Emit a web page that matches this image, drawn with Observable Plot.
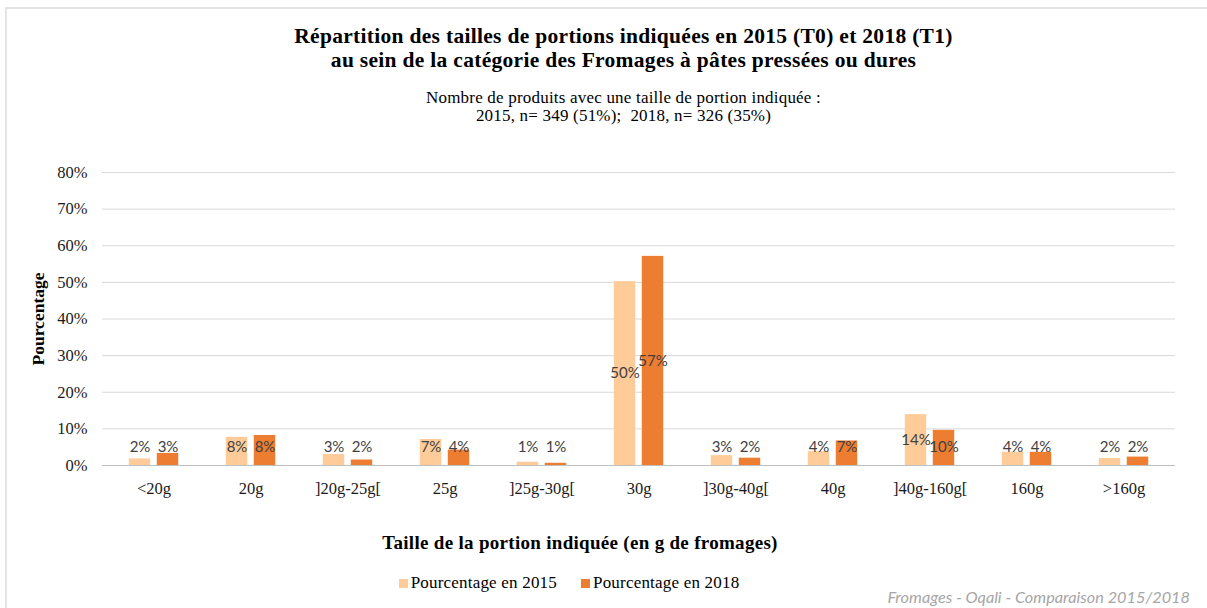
<!DOCTYPE html>
<html><head><meta charset="utf-8">
<script src="https://cdn.jsdelivr.net/npm/d3@7"></script>
<script src="https://cdn.jsdelivr.net/npm/@observablehq/plot@0.6"></script>
<style>
body{margin:0;background:#fff;}
#wrap{position:relative;width:1207px;height:608px;overflow:hidden;background:#fff;font-family:"Liberation Serif",serif;color:#000;}
#frame{position:absolute;left:5px;top:7px;width:1220px;height:620px;border-left:2px solid #e4e4e4;border-top:2px solid #e4e4e4;}
#title{position:absolute;left:20px;width:1207px;top:24px;text-align:center;font-weight:bold;font-size:21.5px;letter-spacing:0.3px;line-height:24px;}
#subtitle{position:absolute;left:20px;width:1207px;top:89px;text-align:center;font-size:17px;letter-spacing:0.2px;line-height:18px;}
#chart{position:absolute;left:0;top:140px;}
#xtitle{position:absolute;left:180px;width:800px;top:532px;text-align:center;font-weight:bold;font-size:19px;letter-spacing:0.3px;line-height:22px;}
#legend{position:absolute;left:169px;width:800px;top:573px;text-align:center;font-size:17px;letter-spacing:0.2px;line-height:20px;white-space:nowrap;}
#legend span.item{display:inline-block;margin:0 12px;}
#legend i{display:inline-block;width:9px;height:9px;margin-right:3px;vertical-align:0px;}
#caption{position:absolute;right:17px;top:587px;font-family:Lato,sans-serif;font-style:italic;font-size:16.3px;color:#a6a6a6;line-height:20px;white-space:nowrap;}
</style>
</head><body>
<div id="wrap">
  <div id="frame"></div>
  <div id="title"></div>
  <div id="subtitle"></div>
  <div id="chart"></div>
  <div id="xtitle"></div>
  <div id="legend"></div>
  <div id="caption"></div>
</div>
<script>
const titleLines = ["Répartition des tailles de portions indiquées en 2015 (T0) et 2018 (T1)", "au sein de la catégorie des Fromages à pâtes pressées ou dures"];
const subtitleLines = ["Nombre de produits avec une taille de portion indiquée :", "2015, n= 349 (51%);&nbsp; 2018, n= 326 (35%)"];
const categories = ["<20g", "20g", "]20g-25g[", "25g", "]25g-30g[", "30g", "]30g-40g[", "40g", "]40g-160g[", "160g", ">160g"];
const pct2015 = [1.8, 7.7, 3.0, 7.1, 0.9, 50.2, 2.7, 3.8, 13.9, 3.6, 1.9];
const pct2018 = [3.3, 8.2, 1.5, 4.2, 0.6, 57.1, 2.0, 6.7, 9.6, 3.6, 2.3];
const seriesNames = ["Pourcentage en 2015", "Pourcentage en 2018"];
const seriesColors = ["#FFCC99", "#ED7D31"];
const yTicks = [0, 10, 20, 30, 40, 50, 60, 70, 80];
const yTitle = "Pourcentage";
const xTitle = "Taille de la portion indiquée (en g de fromages)";
const caption = "Fromages - Oqali - Comparaison 2015/2018";

document.getElementById("title").innerHTML = titleLines.join("<br>");
document.getElementById("subtitle").innerHTML = subtitleLines.join("<br>");
document.getElementById("xtitle").textContent = xTitle;
document.getElementById("caption").textContent = caption;
const leg = document.getElementById("legend");
seriesNames.forEach((n, i) => {
  const s = document.createElement("span");
  s.className = "item";
  const sw = document.createElement("i");
  sw.style.background = seriesColors[i];
  s.appendChild(sw);
  s.appendChild(document.createTextNode(n));
  leg.appendChild(s);
});

const data = categories.map((c, i) => ({cat: c, v15: pct2015[i], v18: pct2018[i]}));
const W = 1207, H = 370, mL = 102, mR = 32, mT = 32, mB = 45;
const bw = (W - mL - mR) / categories.length;
const barW = 22, gap = 6;
const off = (barW + gap) / 2;
const labelFont = {fontFamily: "Lato, sans-serif", fontSize: 15, fill: "#404040"};

const plot = Plot.plot({
  width: W, height: H,
  marginLeft: mL, marginRight: mR, marginTop: mT, marginBottom: mB,
  style: {fontFamily: "Liberation Serif, serif", fontSize: "16.5px", color: "#1a1a1a", background: "transparent"},
  x: {domain: categories, padding: 0, label: null, tickSize: 0, tickPadding: 17},
  y: {domain: [0, 80], ticks: yTicks, tickFormat: d => d + "%", label: null, tickSize: 0, tickPadding: 15},
  marks: [
    Plot.ruleY(yTicks.filter(d => d > 0), {stroke: "#d9d9d9", strokeWidth: 1}),
    Plot.barY(data, {x: "cat", y: "v15", fill: seriesColors[0], insetLeft: bw / 2 - barW - gap / 2, insetRight: bw / 2 + gap / 2}),
    Plot.barY(data, {x: "cat", y: "v18", fill: seriesColors[1], insetLeft: bw / 2 + gap / 2, insetRight: bw / 2 - barW - gap / 2}),
    Plot.ruleY([0], {stroke: "#bfbfbf", strokeWidth: 1}),
    Plot.text(data, {x: "cat", y: d => Math.max(d.v15 / 2, 5), text: d => Math.round(d.v15) + "%", dx: -off, ...labelFont}),
    Plot.text(data, {x: "cat", y: d => Math.max(d.v18 / 2, 5), text: d => Math.round(d.v18) + "%", dx: off, ...labelFont}),
    Plot.text([yTitle], {frameAnchor: "left", textAnchor: "middle", rotate: -90, dx: -64, fontWeight: "bold", fontSize: 17.5, fontFamily: "Liberation Serif, serif", fill: "#000"})
  ]
});
document.getElementById("chart").appendChild(plot);
</script>
</body></html>
